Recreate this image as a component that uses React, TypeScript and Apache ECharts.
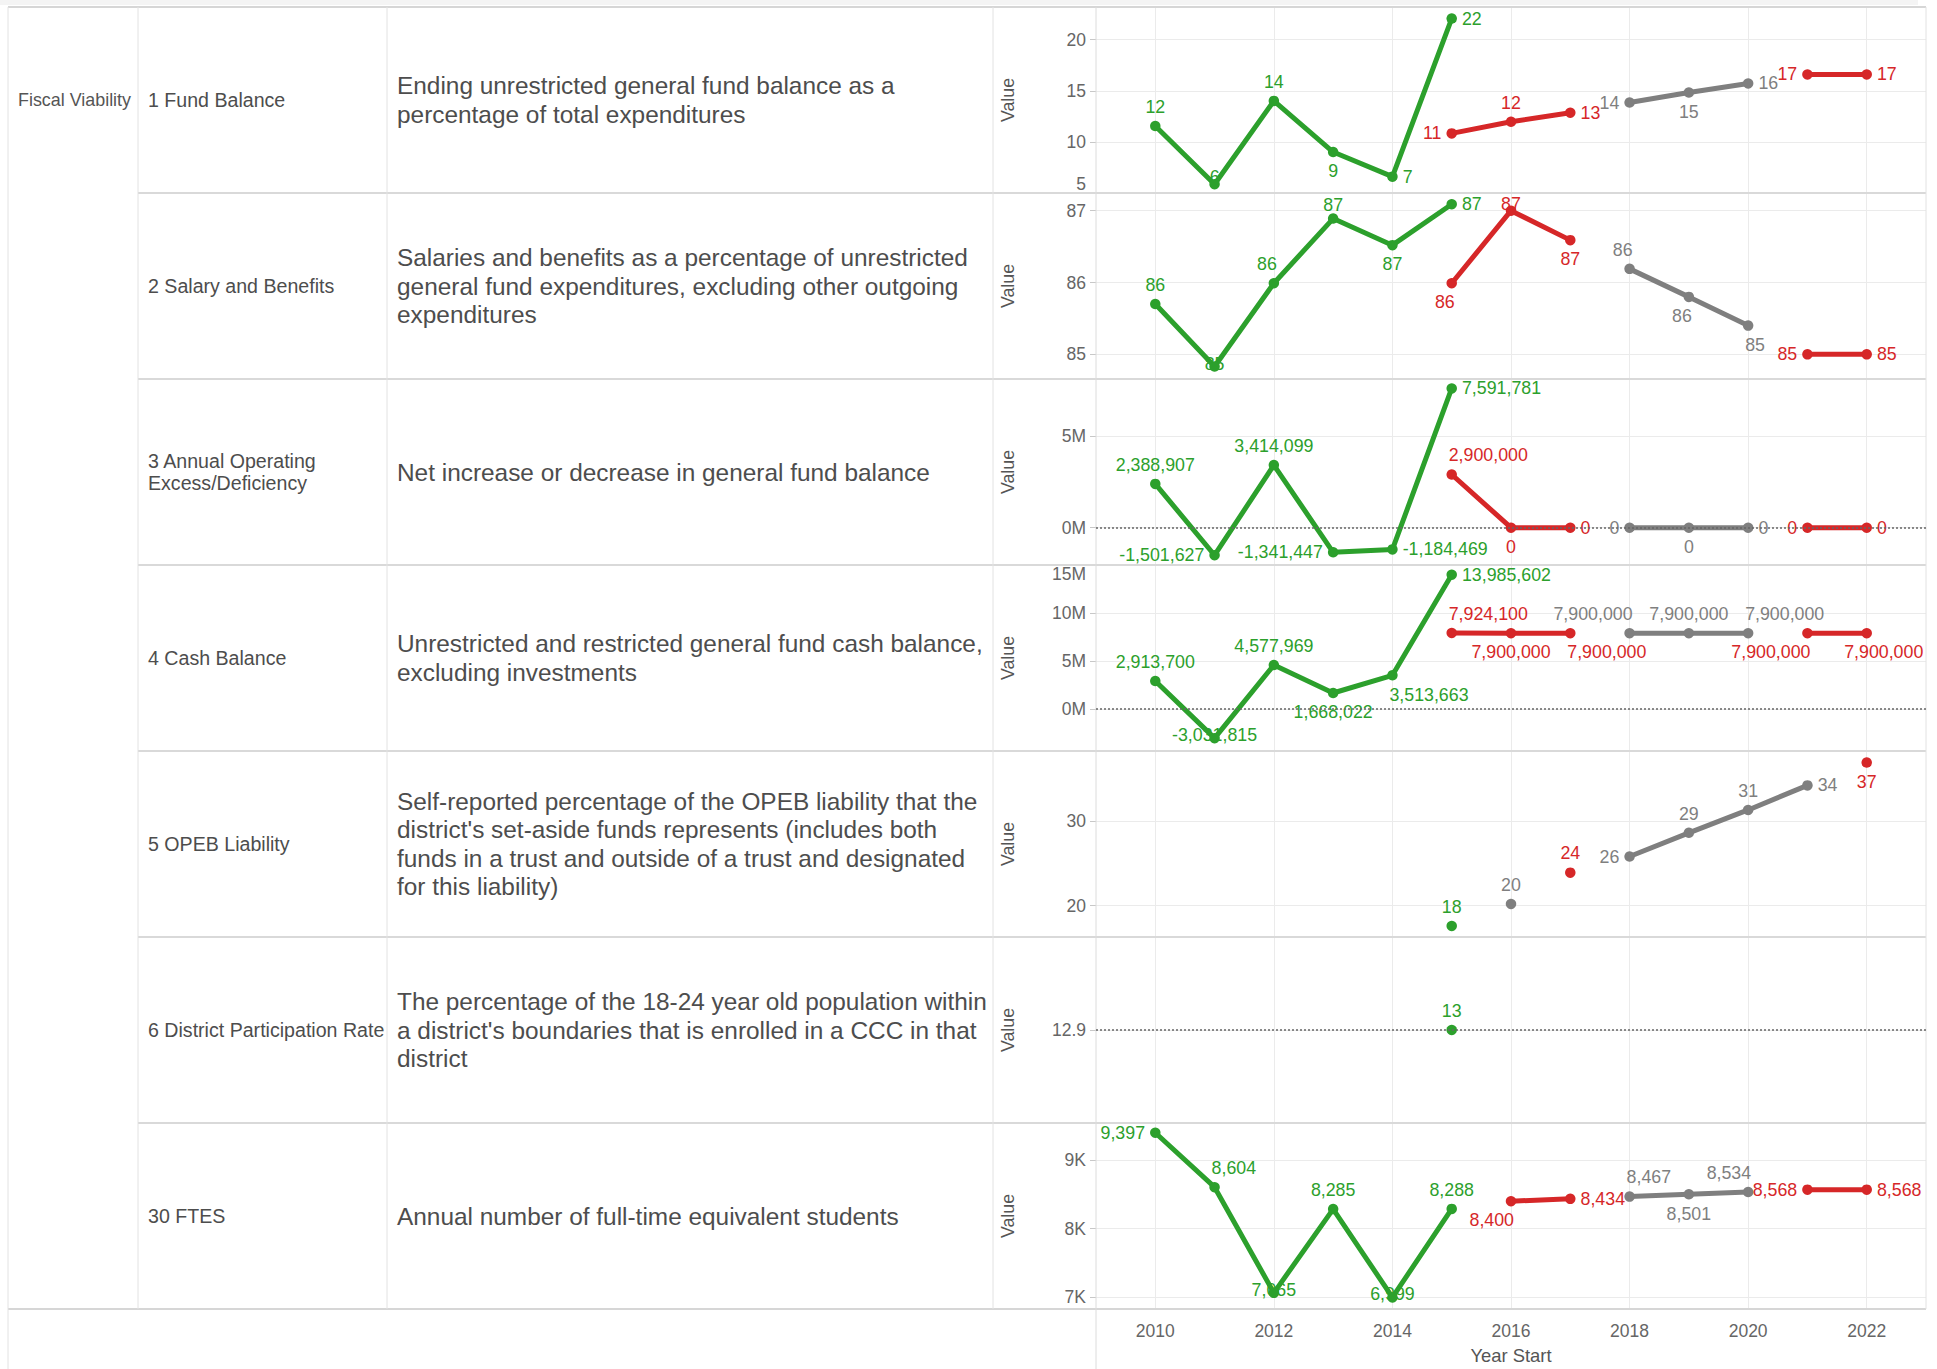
import React, { useEffect, useRef } from "react";
import * as echarts from "echarts";

// ---------------- Text content ----------------
const GROUP_LABEL = "Fiscal Viability";
const METRIC_NAMES = [
  "1 Fund Balance",
  "2 Salary and Benefits",
  "3 Annual Operating\nExcess/Deficiency",
  "4 Cash Balance",
  "5 OPEB Liability",
  "6 District Participation Rate",
  "30 FTES",
];
const METRIC_DESCRIPTIONS = [
  "Ending unrestricted general fund balance as a\npercentage of total expenditures",
  "Salaries and benefits as a percentage of unrestricted\ngeneral fund expenditures, excluding other outgoing\nexpenditures",
  "Net increase or decrease in general fund balance",
  "Unrestricted and restricted general fund cash balance,\nexcluding investments",
  "Self-reported percentage of the OPEB liability that the\ndistrict's set-aside funds represents (includes both\nfunds in a trust and outside of a trust and designated\nfor this liability)",
  "The percentage of the 18-24 year old population within\na district's boundaries that is enrolled in a CCC in that\ndistrict",
  "Annual number of full-time equivalent students",
];
const X_AXIS_TITLE = "Year Start";
const Y_AXIS_TITLE = "Value";

// ---------------- Axis domains ----------------
const YEAR_MIN = 2009;
const YEAR_MAX = 2023;
const YEAR_STEP = 2;
const Y_MIN = [5, 84.657, -2034000, -4370000, 16.3, 12.8, 6830];
const Y_MAX = [23.2, 87.246, 8108000, 15000000, 38.26, 13.0, 9539];
const Y_STEP = [5, 1, 5000000, 5000000, 10, 0.1, 1000];
const Y_TICK_DIVISOR = [1, 1, 1000000, 1000000, 1, 1, 1000];
const Y_TICK_SUFFIX = ["", "", "M", "M", "", "", "K"];
const Y_TICK_DECIMALS = [0, 0, 0, 0, 0, 1, 0];
const REFERENCE_LINES: (number | null)[] = [null, null, 0, 0, null, 12.9, null];

// ---------------- Series values ----------------
// Row 1: Fund Balance
const FUND_BAL_GREEN = [11.55, 5.86, 14.01, 9.01, 6.6, 22.07]; // 2010-2015
const FUND_BAL_RED_A = [10.83, 11.97, 12.86]; // 2015-2017
const FUND_BAL_GRAY = [13.85, 14.83, 15.72]; // 2018-2020
const FUND_BAL_RED_B = [16.6, 16.6]; // 2021-2022
// Row 2: Salary and Benefits
const SALARY_GREEN = [85.7, 84.83, 85.99, 86.89, 86.52, 87.09]; // 2010-2015
const SALARY_RED_A = [85.99, 87.0, 86.59]; // 2015-2017
const SALARY_GRAY = [86.19, 85.8, 85.4]; // 2018-2020
const SALARY_RED_B = [85.0, 85.0]; // 2021-2022
// Row 3: Annual Operating Excess/Deficiency
const OPERATING_GREEN = [2388907, -1501627, 3414099, -1341447, -1184469, 7591781]; // 2010-2015
const OPERATING_RED_A = [2900000, 0, 0]; // 2015-2017
const OPERATING_GRAY = [0, 0, 0]; // 2018-2020
const OPERATING_RED_B = [0, 0]; // 2021-2022
// Row 4: Cash Balance
const CASH_GREEN = [2913700, -3031815, 4577969, 1668022, 3513663, 13985602]; // 2010-2015
const CASH_RED_A = [7924100, 7900000, 7900000]; // 2015-2017
const CASH_GRAY = [7900000, 7900000, 7900000]; // 2018-2020
const CASH_RED_B = [7900000, 7900000]; // 2021-2022
// Row 5: OPEB Liability
const OPEB_GREEN = [17.6]; // 2015
const OPEB_GRAY_A = [20.2]; // 2016
const OPEB_RED_A = [23.9]; // 2017
const OPEB_GRAY_B = [25.8, 28.6, 31.3, 34.2]; // 2018-2021
const OPEB_RED_B = [36.9]; // 2022
// Row 6: District Participation Rate
const PARTICIPATION_GREEN = [12.9]; // 2015
// Row 7: FTES
const FTES_GREEN = [9397, 8604, 7065, 8285, 6999, 8288]; // 2010-2015
const FTES_RED_A = [8400, 8434]; // 2016-2017
const FTES_GRAY = [8467, 8501, 8534]; // 2018-2020
const FTES_RED_B = [8568, 8568]; // 2021-2022

// ---------------- Label placements ----------------
// t/b/l/r = top/bottom/left/right, c = on point, ct/tt = on point nudged up,
// tr/tl/br/bl = above/below, text starting/ending at the point, bs = below nudged right
type Seg = { color: "green" | "red" | "gray"; start: number; values: number[]; labels: string[] };

const ROW_SEGMENTS: Seg[][] = [
  [
    { color: "green", start: 2010, values: FUND_BAL_GREEN, labels: ["t", "ct", "t", "b", "r", "r"] },
    { color: "red", start: 2015, values: FUND_BAL_RED_A, labels: ["l", "t", "r"] },
    { color: "gray", start: 2018, values: FUND_BAL_GRAY, labels: ["l", "b", "r"] },
    { color: "red", start: 2021, values: FUND_BAL_RED_B, labels: ["l", "r"] },
  ],
  [
    { color: "green", start: 2010, values: SALARY_GREEN, labels: ["t", "c", "tl", "tt", "b", "r"] },
    { color: "red", start: 2015, values: SALARY_RED_A, labels: ["bl", "ct", "b"] },
    { color: "gray", start: 2018, values: SALARY_GRAY, labels: ["tl", "bl", "br"] },
    { color: "red", start: 2021, values: SALARY_RED_B, labels: ["l", "r"] },
  ],
  [
    { color: "green", start: 2010, values: OPERATING_GREEN, labels: ["t", "l", "t", "l", "r", "r"] },
    { color: "red", start: 2015, values: OPERATING_RED_A, labels: ["tr", "b", "r"] },
    { color: "gray", start: 2018, values: OPERATING_GRAY, labels: ["l", "b", "r"] },
    { color: "red", start: 2021, values: OPERATING_RED_B, labels: ["l", "r"] },
  ],
  [
    { color: "green", start: 2010, values: CASH_GREEN, labels: ["t", "c", "t", "b", "br", "r"] },
    { color: "red", start: 2015, values: CASH_RED_A, labels: ["tr", "b", "br"] },
    { color: "gray", start: 2018, values: CASH_GRAY, labels: ["tl", "t", "tr"] },
    { color: "red", start: 2021, values: CASH_RED_B, labels: ["bl", "bs"] },
  ],
  [
    { color: "green", start: 2015, values: OPEB_GREEN, labels: ["t"] },
    { color: "gray", start: 2016, values: OPEB_GRAY_A, labels: ["t"] },
    { color: "red", start: 2017, values: OPEB_RED_A, labels: ["t"] },
    { color: "gray", start: 2018, values: OPEB_GRAY_B, labels: ["l", "t", "t", "r"] },
    { color: "red", start: 2022, values: OPEB_RED_B, labels: ["b"] },
  ],
  [{ color: "green", start: 2015, values: PARTICIPATION_GREEN, labels: ["t"] }],
  [
    { color: "green", start: 2010, values: FTES_GREEN, labels: ["l", "tr", "c", "t", "c", "t"] },
    { color: "red", start: 2016, values: FTES_RED_A, labels: ["bl", "r"] },
    { color: "gray", start: 2018, values: FTES_GRAY, labels: ["tr", "b", "tl"] },
    { color: "red", start: 2021, values: FTES_RED_B, labels: ["l", "r"] },
  ],
];

// ---------------- Layout / style ----------------
const FONT = '"Liberation Sans", Arial, Helvetica, sans-serif';
const PALETTE: Record<string, string> = { green: "#2ca02c", red: "#d62728", gray: "#7f7f7f" };
const TABLE_LEFT = 8;
const TABLE_TOP = 7;
const ROW_H = 186;
const COL_GROUP_END = 138;
const COL_NAME_END = 387;
const COL_DESC_END = 993;
const PLOT_LEFT = 1096;
const PLOT_RIGHT = 1926;
const PAGE_BOTTOM = 1369;
const N_ROWS = METRIC_NAMES.length;
const rowTop = (i: number) => TABLE_TOP + i * ROW_H;
const rowMid = (i: number) => rowTop(i) + ROW_H / 2;
const DATA_FONT = 17.8;
const TICK_FONT = 17.5;

function fmtNumber(v: number): string {
  const s = String(Math.round(v));
  return s.replace(/\B(?=(\d{3})+(?!\d))/g, ",");
}

function labelFor(p: string): any {
  switch (p) {
    case "t":
      return { position: "top" };
    case "b":
      return { position: "bottom" };
    case "l":
      return { position: "left" };
    case "r":
      return { position: "right" };
    case "c":
      return { position: "inside", offset: [0, -3] };
    case "ct":
      return { position: "inside", offset: [0, -7] };
    case "tt":
      return { position: "inside", offset: [0, -14] };
    case "tr":
      return { position: "top", align: "left", offset: [-3, 0] };
    case "tl":
      return { position: "top", align: "right", offset: [3, 0] };
    case "br":
      return { position: "bottom", align: "left", offset: [-3, 0] };
    case "bl":
      return { position: "bottom", align: "right", offset: [3, 0] };
    case "bs":
      return { position: "bottom", offset: [17, 0] };
    default:
      return { position: "top" };
  }
}

function txt(x: number, y: number, text: string, fontSize: number, fill: string, extra: any = {}) {
  return {
    type: "text",
    x,
    y,
    silent: true,
    z: 10,
    ...extra,
    style: {
      text,
      fontSize,
      fontFamily: FONT,
      fill,
      align: "left",
      verticalAlign: "middle",
      textAlign: "left",
      textVerticalAlign: "middle",
      ...(extra.style || {}),
    },
  };
}

function hLine(x1: number, x2: number, y: number, color: string, w: number) {
  return { type: "line", silent: true, z: 5, shape: { x1, y1: y, x2, y2: y }, style: { stroke: color, lineWidth: w } };
}
function vLine(x: number, y1: number, y2: number, color: string, w: number) {
  return { type: "line", silent: true, z: 5, shape: { x1: x, y1, x2: x, y2 }, style: { stroke: color, lineWidth: w } };
}

function buildOption(): any {
  const tableBottom = rowTop(N_ROWS);
  const graphics: any[] = [];

  graphics.push({ type: "rect", silent: true, z: 1, shape: { x: 0, y: 0, width: 1918, height: 5 }, style: { fill: "#f4f4f4" } });
  // table frame
  graphics.push(hLine(TABLE_LEFT, PLOT_RIGHT, TABLE_TOP, "#d6d6d6", 2));
  for (let i = 1; i < N_ROWS; i++) graphics.push(hLine(COL_GROUP_END, PLOT_RIGHT, rowTop(i), "#d9d9d9", 2));
  graphics.push(hLine(TABLE_LEFT, PLOT_RIGHT, tableBottom, "#d6d6d6", 2));
  graphics.push(vLine(TABLE_LEFT, TABLE_TOP, PAGE_BOTTOM, "#e2e2e2", 1));
  graphics.push(vLine(COL_GROUP_END, TABLE_TOP, tableBottom, "#e2e2e2", 1));
  graphics.push(vLine(COL_NAME_END, TABLE_TOP, tableBottom, "#e2e2e2", 1));
  graphics.push(vLine(COL_DESC_END, TABLE_TOP, tableBottom, "#e2e2e2", 1));
  graphics.push(vLine(PLOT_LEFT, TABLE_TOP, PAGE_BOTTOM, "#dcdcdc", 1));
  graphics.push(vLine(PLOT_RIGHT, TABLE_TOP, tableBottom, "#e2e2e2", 1));

  graphics.push(txt(18, rowMid(0), GROUP_LABEL, 17.9, "#555555"));
  for (let i = 0; i < N_ROWS; i++) {
    graphics.push(txt(148, rowMid(i), METRIC_NAMES[i], 19.6, "#4d4d4d", { style: { lineHeight: 22.5 } }));
    graphics.push(txt(397, rowMid(i), METRIC_DESCRIPTIONS[i], 24.4, "#4d4d4d", { style: { lineHeight: 28.3 } }));
    graphics.push(
      txt(1008, rowMid(i), Y_AXIS_TITLE, 17.8, "#555555", {
        rotation: Math.PI / 2,
        style: { align: "center", textAlign: "center" },
      })
    );
  }

  const grids = [];
  const xAxes = [];
  const yAxes = [];
  const series: any[] = [];
  for (let i = 0; i < N_ROWS; i++) {
    const last = i === N_ROWS - 1;
    grids.push({
      left: PLOT_LEFT,
      top: rowTop(i),
      width: PLOT_RIGHT - PLOT_LEFT,
      height: ROW_H,
      containLabel: false,
      outerBoundsMode: "none",
    });
    xAxes.push({
      type: "value",
      gridIndex: i,
      min: YEAR_MIN,
      max: YEAR_MAX,
      minInterval: YEAR_STEP,
      maxInterval: YEAR_STEP,
      axisLine: { show: false },
      axisTick: { show: false },
      axisLabel: {
        show: last,
        showMinLabel: false,
        showMaxLabel: false,
        color: "#666666",
        fontSize: TICK_FONT,
        fontFamily: FONT,
        margin: 13,
        formatter: (v: number) => String(v),
      },
      splitLine: { show: true, showMinLine: false, showMaxLine: false, lineStyle: { color: "#ebebeb", width: 1 } },
      name: last ? X_AXIS_TITLE : "",
      nameLocation: "middle",
      nameGap: 37,
      nameTextStyle: { color: "#555555", fontSize: 18.4, fontFamily: FONT },
    });
    const div = Y_TICK_DIVISOR[i];
    const suf = Y_TICK_SUFFIX[i];
    const dec = Y_TICK_DECIMALS[i];
    yAxes.push({
      type: "value",
      gridIndex: i,
      min: Y_MIN[i],
      max: Y_MAX[i],
      minInterval: Y_STEP[i],
      maxInterval: Y_STEP[i],
      axisLine: { show: false },
      axisTick: { show: true, length: 6, lineStyle: { color: "#c8c8c8" } },
      axisLabel: {
        color: "#666666",
        fontSize: TICK_FONT,
        fontFamily: FONT,
        margin: 10,
        showMinLabel: i === 0,
        showMaxLabel: i === 3,
        verticalAlignMinLabel: "bottom",
        verticalAlignMaxLabel: "top",
        formatter: (v: number) => (v / div).toFixed(dec) + suf,
      },
      splitLine: { show: true, showMinLine: false, showMaxLine: false, lineStyle: { color: "#ebebeb", width: 1 } },
    });

    ROW_SEGMENTS[i].forEach((seg, k) => {
      const color = PALETTE[seg.color];
      const s: any = {
        type: "line",
        xAxisIndex: i,
        yAxisIndex: i,
        symbol: "circle",
        symbolSize: 10.5,
        showSymbol: true,
        lineStyle: { width: 5, color },
        itemStyle: { color },
        emphasis: { disabled: true },
        z: 4,
        label: {
          show: true,
          color,
          fontSize: DATA_FONT,
          fontFamily: FONT,
          distance: 5,
          formatter: (p: any) => fmtNumber(p.value[1]),
        },
        data: seg.values.map((v, j) => ({ value: [seg.start + j, v], label: labelFor(seg.labels[j]) })),
      };
      if (k === 0 && REFERENCE_LINES[i] !== null) {
        s.markLine = {
          silent: true,
          symbol: ["none", "none"],
          label: { show: false },
          lineStyle: { color: "#666666", type: [2, 2], width: 1.5 },
          emphasis: { disabled: true },
          data: [{ yAxis: REFERENCE_LINES[i] }],
        };
      }
      series.push(s);
    });
  }

  return {
    animation: false,
    backgroundColor: "#ffffff",
    textStyle: { fontFamily: FONT },
    grid: grids,
    xAxis: xAxes,
    yAxis: yAxes,
    series,
    graphic: { elements: graphics },
  };
}

export default function App() {
  const ref = useRef<HTMLDivElement>(null);
  useEffect(() => {
    if (!ref.current) return;
    const chart = echarts.init(ref.current, null, { renderer: "svg" });
    chart.setOption(buildOption());
    return () => chart.dispose();
  }, []);
  return (
    <div
      ref={ref}
      style={{ position: "absolute", left: 0, top: 0, width: 1937, height: 1369 }}
    />
  );
}
